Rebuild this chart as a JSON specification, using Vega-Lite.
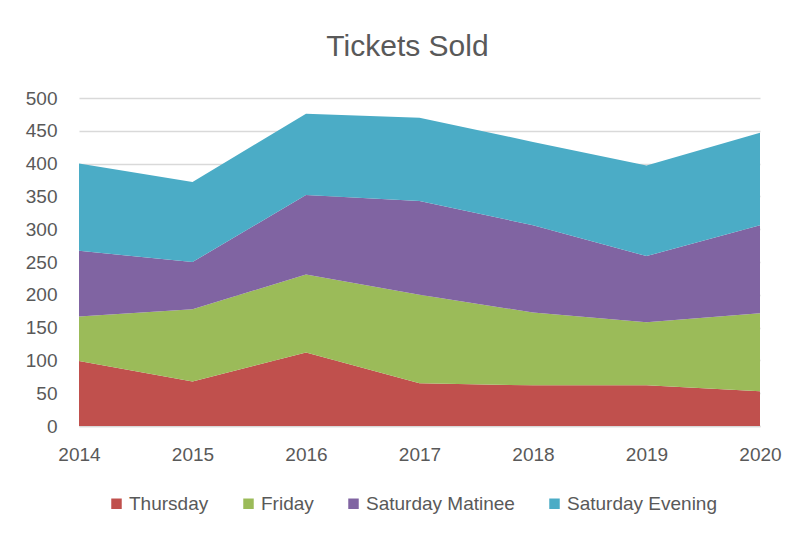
{
  "$schema": "https://vega.github.io/schema/vega-lite/v6.json",
  "width": 681,
  "height": 328,
  "autosize": {"type": "none"},
  "padding": {"left": 79, "top": 98, "right": 39, "bottom": 110},
  "background": "white",
  "title": {
    "text": "Tickets Sold",
    "font": "Liberation Sans",
    "fontSize": 30,
    "fontWeight": "normal",
    "color": "#595959",
    "anchor": "middle",
    "offset": 27,
    "dx": -12
  },
  "data": {
    "values": [
      {"year": "2014", "series": "Thursday", "tickets": 99},
      {"year": "2014", "series": "Friday", "tickets": 68},
      {"year": "2014", "series": "Saturday Matinee", "tickets": 100},
      {"year": "2014", "series": "Saturday Evening", "tickets": 133},
      {"year": "2015", "series": "Thursday", "tickets": 68},
      {"year": "2015", "series": "Friday", "tickets": 110},
      {"year": "2015", "series": "Saturday Matinee", "tickets": 72},
      {"year": "2015", "series": "Saturday Evening", "tickets": 122},
      {"year": "2016", "series": "Thursday", "tickets": 112},
      {"year": "2016", "series": "Friday", "tickets": 119},
      {"year": "2016", "series": "Saturday Matinee", "tickets": 121},
      {"year": "2016", "series": "Saturday Evening", "tickets": 124},
      {"year": "2017", "series": "Thursday", "tickets": 65},
      {"year": "2017", "series": "Friday", "tickets": 135},
      {"year": "2017", "series": "Saturday Matinee", "tickets": 143},
      {"year": "2017", "series": "Saturday Evening", "tickets": 127},
      {"year": "2018", "series": "Thursday", "tickets": 62},
      {"year": "2018", "series": "Friday", "tickets": 111},
      {"year": "2018", "series": "Saturday Matinee", "tickets": 133},
      {"year": "2018", "series": "Saturday Evening", "tickets": 127},
      {"year": "2019", "series": "Thursday", "tickets": 62},
      {"year": "2019", "series": "Friday", "tickets": 96},
      {"year": "2019", "series": "Saturday Matinee", "tickets": 101},
      {"year": "2019", "series": "Saturday Evening", "tickets": 138},
      {"year": "2020", "series": "Thursday", "tickets": 53},
      {"year": "2020", "series": "Friday", "tickets": 119},
      {"year": "2020", "series": "Saturday Matinee", "tickets": 134},
      {"year": "2020", "series": "Saturday Evening", "tickets": 141}
    ]
  },
  "transform": [
    {"calculate": "indexof(['Thursday','Friday','Saturday Matinee','Saturday Evening'], datum.series)", "as": "stackOrder"}
  ],
  "mark": {"type": "area", "opacity": 1},
  "encoding": {
    "x": {
      "field": "year",
      "type": "ordinal",
      "scale": {"type": "point", "padding": 0},
      "axis": {
        "title": null,
        "labelAngle": 0,
        "ticks": false,
        "domain": true,
        "domainColor": "#D9D9D9",
        "domainWidth": 1.5,
        "grid": false,
        "labelFont": "Liberation Sans",
        "labelFontSize": 19,
        "labelColor": "#595959",
        "labelPadding": 19
      }
    },
    "y": {
      "field": "tickets",
      "type": "quantitative",
      "stack": "zero",
      "scale": {"domain": [0, 500], "nice": false},
      "axis": {
        "title": null,
        "values": [0, 50, 100, 150, 200, 250, 300, 350, 400, 450, 500],
        "ticks": false,
        "domain": false,
        "grid": true,
        "gridColor": "#D9D9D9",
        "gridWidth": 1.5,
        "labelFont": "Liberation Sans",
        "labelFontSize": 19,
        "labelColor": "#595959",
        "labelPadding": 22
      }
    },
    "order": {"field": "stackOrder", "type": "quantitative", "sort": "ascending"},
    "color": {
      "field": "series",
      "type": "nominal",
      "sort": ["Thursday", "Friday", "Saturday Matinee", "Saturday Evening"],
      "scale": {
        "domain": ["Thursday", "Friday", "Saturday Matinee", "Saturday Evening"],
        "range": ["#C0504D", "#9BBB59", "#8064A2", "#4BACC6"]
      },
      "legend": {
        "title": null,
        "orient": "none",
        "direction": "horizontal",
        "legendX": 28,
        "legendY": 396,
        "symbolType": "square",
        "symbolSize": 110,
        "symbolStrokeWidth": 0,
        "symbolOpacity": 1,
        "labelFont": "Liberation Sans",
        "labelFontSize": 19,
        "labelColor": "#595959",
        "labelOffset": 3,
        "columnPadding": 30
      }
    }
  },
  "config": {"view": {"stroke": null}}
}
